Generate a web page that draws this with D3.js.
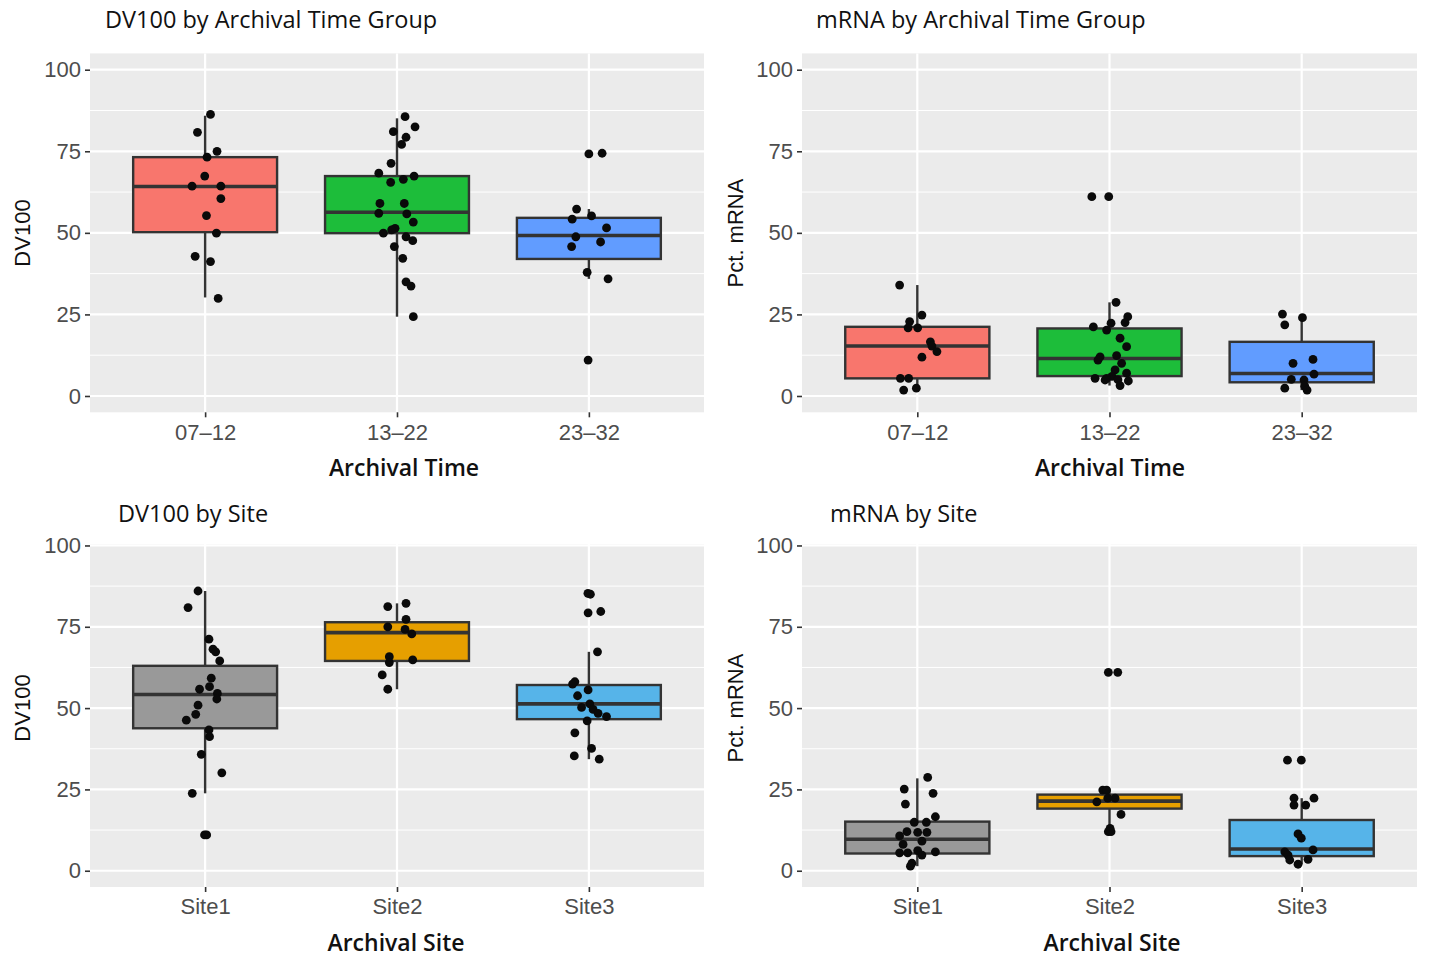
<!DOCTYPE html>
<html lang="en">
<head>
  <meta charset="UTF-8">
  <title>DV100 and mRNA boxplots</title>
  <script src="https://d3js.org/d3.v7.min.js"></script>
  <style>
    body { margin: 0; background: #fff; }
    .tick-label { font-family: "Liberation Sans", Arial, sans-serif; font-size: 22px; fill: #4d4d4d; }
    .y-title { font-family: "Liberation Sans", Arial, sans-serif; font-size: 22px; fill: #111; }
    .x-title { font-family: "Open Sans", sans-serif; font-size: 23px; font-weight: 600; fill: #111; }
    .p-title { font-family: "Open Sans", sans-serif; font-size: 23.5px; fill: #111; }
  </style>
</head>
<body>
<svg id="chart" width="1432" height="959"></svg>

<script>
// categories
const timeGroups = ["07–12", "13–22", "23–32"];
const sites = ["Site1", "Site2", "Site3"];

const timeColors = ["#F8766D", "#1DBD3A", "#619CFF"];
const siteColors = ["#999999", "#E69F00", "#56B4E9"];

const yTicks = [0, 25, 50, 75, 100];
const yMinor = [12.5, 37.5, 62.5, 87.5];

// box stats: [lower whisker, q1, median, q3, upper whisker]
const dv100TimeBoxes = [
  [30.2, 50.2, 64.2, 73.2, 85.9],
  [24.3, 49.9, 56.3, 67.4, 85.1],
  [35.9, 42.0, 49.2, 54.6, 57.3]
];
const mrnaTimeBoxes = [
  [1.8, 5.4, 15.3, 21.2, 34.0],
  [3.2, 6.1, 11.5, 20.7, 28.7],
  [1.8, 4.2, 6.9, 16.6, 24.0]
];
const dv100SiteBoxes = [
  [23.8, 43.8, 54.2, 63.0, 86.0],
  [55.8, 64.5, 73.2, 76.4, 82.2],
  [34.3, 46.6, 51.3, 57.1, 67.3]
];
const mrnaSiteBoxes = [
  [1.4, 5.3, 9.7, 15.1, 28.4],
  [12.0, 19.1, 21.4, 23.4, 24.8],
  [2.0, 4.5, 6.7, 15.6, 22.3]
];

// points: [value, horizontal jitter as a fraction of the category step], one list per category
const dv100TimePoints = [
  [[86.3, 0.028], [80.8, -0.040], [75.0, 0.062], [73.2, 0.010], [67.4, -0.002], [64.3, -0.068],
   [64.3, 0.082], [60.5, 0.082], [55.3, 0.007], [49.9, 0.059], [42.8, -0.052], [41.2, 0.028], [29.9, 0.068]],
  [[85.6, 0.042], [82.5, 0.094], [81.0, -0.019], [79.3, 0.047], [77.1, 0.024], [71.3, -0.031],
   [68.3, -0.095], [67.4, 0.089], [66.4, 0.033], [65.5, -0.033], [59.0, -0.089], [59.0, 0.038],
   [56.0, -0.095], [55.8, 0.051], [53.3, 0.085], [51.4, -0.010], [50.9, -0.028], [49.9, -0.071],
   [48.8, 0.047], [47.6, 0.082], [45.8, -0.014], [42.2, 0.030], [35.0, 0.047], [33.7, 0.073], [24.3, 0.085]],
  [[74.2, 0.000], [74.4, 0.069], [57.3, -0.064], [55.2, 0.014], [54.2, -0.087], [51.5, 0.092],
   [48.8, -0.068], [47.2, 0.061], [45.8, -0.090], [37.9, -0.009], [35.9, 0.100], [11.0, -0.004]]
];
const mrnaTimePoints = [
  [[34.0, -0.092], [24.8, 0.024], [22.8, -0.040], [20.9, -0.048], [20.9, 0.002], [16.6, 0.068],
   [15.3, 0.076], [13.6, 0.102], [11.9, 0.024], [5.4, -0.088], [5.4, -0.045], [1.8, -0.071], [2.4, -0.005]],
  [[61.1, -0.092], [61.1, -0.004], [28.7, 0.034], [24.3, 0.095], [22.5, 0.081], [22.3, 0.008],
   [21.2, -0.084], [20.2, -0.015], [17.7, 0.055], [15.1, 0.089], [12.4, 0.037], [12.0, -0.049],
   [11.0, -0.060], [10.0, 0.063], [8.0, 0.029], [7.0, 0.089], [6.0, 0.013], [5.4, -0.075],
   [5.4, -0.015], [5.0, 0.044], [4.9, -0.023], [4.6, 0.098], [3.2, 0.055]],
  [[25.1, -0.100], [21.8, -0.088], [24.0, 0.004], [11.2, 0.059], [10.0, -0.045], [6.7, 0.064],
   [5.1, -0.054], [4.9, 0.012], [3.0, 0.016], [2.4, -0.088], [1.8, 0.028]]
];
const dv100SitePoints = [
  [[86.0, -0.037], [80.9, -0.089], [71.2, 0.020], [68.1, 0.041], [67.3, 0.055], [64.5, 0.076],
   [59.2, 0.032], [56.6, 0.023], [55.8, -0.029], [54.5, 0.064], [52.8, 0.061], [50.9, -0.037],
   [48.1, -0.049], [46.3, -0.098], [43.3, 0.020], [41.2, 0.023], [35.8, -0.020], [30.1, 0.087],
   [23.8, -0.067], [11.0, -0.003], [11.0, 0.008]],
  [[82.2, 0.047], [81.2, -0.048], [77.3, 0.047], [75.0, -0.048], [74.2, 0.042], [72.8, 0.077],
   [65.8, -0.040], [64.8, 0.082], [64.0, -0.040], [60.2, -0.077], [55.8, -0.048]],
  [[85.3, -0.005], [85.0, 0.008], [79.3, -0.004], [79.7, 0.062], [67.3, 0.045], [58.1, -0.073],
   [57.4, -0.085], [55.6, -0.004], [53.8, -0.059], [51.3, 0.005], [50.2, -0.038], [49.6, 0.022],
   [48.4, 0.048], [47.4, 0.092], [46.1, -0.009], [42.4, -0.073], [37.6, 0.014], [35.3, -0.076], [34.3, 0.054]]
];
const mrnaSitePoints = [
  [[28.7, 0.054], [25.1, -0.068], [23.8, 0.082], [20.5, -0.062], [16.6, 0.094], [14.9, -0.016],
   [14.9, 0.047], [12.0, -0.054], [11.8, 0.002], [11.8, 0.050], [10.7, -0.092], [9.1, 0.024],
   [8.1, -0.074], [5.5, -0.092], [5.5, -0.050], [6.2, 0.002], [5.8, 0.094], [4.8, 0.024],
   [2.3, -0.028], [1.4, -0.036]],
  [[61.0, -0.006], [61.0, 0.043], [24.8, -0.035], [24.8, -0.015], [22.3, -0.009], [22.3, 0.029],
   [21.2, -0.066], [17.3, 0.060], [13.0, 0.003], [12.0, -0.006], [12.0, 0.008]],
  [[34.0, -0.074], [34.0, -0.002], [22.3, -0.040], [22.3, 0.064], [20.2, -0.040], [20.2, 0.021],
   [11.3, -0.019], [10.0, -0.002], [6.4, 0.059], [5.8, -0.088], [4.8, -0.071], [3.5, 0.033],
   [3.3, -0.062], [2.0, -0.019]]
];

// layout of the four panels
const rows = [
  { yRange: [412.3, 53.4], bgTop: 53.4, titleY: 28, tickY: 440, xTitleY: 476, yMid: 233 },
  { yRange: [887, 529.2], bgTop: 544, titleY: 522, tickY: 914, xTitleY: 951, yMid: 708 }
];
const cols = [
  { x0: 90, x1: 704, yTitleX: 30 },
  { x0: 802, x1: 1417, yTitleX: 743 }
];

const panels = [
  { row: 0, col: 0, title: "DV100 by Archival Time Group", titleX: 105, yTitle: "DV100",
    xTitle: "Archival Time", xTitleX: 404, cats: timeGroups, fills: timeColors, boxes: dv100TimeBoxes, points: dv100TimePoints },
  { row: 0, col: 1, title: "mRNA by Archival Time Group", titleX: 816, yTitle: "Pct. mRNA",
    xTitle: "Archival Time", xTitleX: 1110, cats: timeGroups, fills: timeColors, boxes: mrnaTimeBoxes, points: mrnaTimePoints },
  { row: 1, col: 0, title: "DV100 by Site", titleX: 118, yTitle: "DV100",
    xTitle: "Archival Site", xTitleX: 396, cats: sites, fills: siteColors, boxes: dv100SiteBoxes, points: dv100SitePoints },
  { row: 1, col: 1, title: "mRNA by Site", titleX: 830, yTitle: "Pct. mRNA",
    xTitle: "Archival Site", xTitleX: 1112, cats: sites, fills: siteColors, boxes: mrnaSiteBoxes, points: mrnaSitePoints }
];

const svg = d3.select("#chart");

panels.forEach(p => {
  const r = rows[p.row], c = cols[p.col];
  const g = svg.append("g");

  const y = d3.scaleLinear().domain([-5, 105]).range(r.yRange);
  const x = d3.scalePoint().domain(p.cats).range([c.x0, c.x1]).padding(0.6);
  const step = x.step();
  const bw = step * 0.75;

  // panel background
  g.append("rect")
    .attr("x", c.x0).attr("y", r.bgTop)
    .attr("width", c.x1 - c.x0).attr("height", r.yRange[0] - r.bgTop)
    .attr("fill", "#ebebeb");

  // grid
  g.selectAll(".minor").data(yMinor).enter().append("line")
    .attr("x1", c.x0).attr("x2", c.x1)
    .attr("y1", d => y(d)).attr("y2", d => y(d))
    .attr("stroke", "#fff").attr("stroke-width", 1);
  g.selectAll(".major").data(yTicks).enter().append("line")
    .attr("x1", c.x0).attr("x2", c.x1)
    .attr("y1", d => y(d)).attr("y2", d => y(d))
    .attr("stroke", "#fff").attr("stroke-width", 2.2);
  g.selectAll(".vgrid").data(p.cats).enter().append("line")
    .attr("x1", d => x(d)).attr("x2", d => x(d))
    .attr("y1", r.bgTop).attr("y2", r.yRange[0])
    .attr("stroke", "#fff").attr("stroke-width", 2.2);

  // y axis
  const yAxis = g.append("g")
    .attr("transform", `translate(${c.x0},0)`)
    .call(d3.axisLeft(y).tickValues(yTicks).tickSize(5).tickPadding(4));
  yAxis.select(".domain").remove();
  yAxis.attr("font-family", null).attr("font-size", null);
  yAxis.selectAll("line").attr("stroke", "#333").attr("stroke-width", 1.6);
  yAxis.selectAll("text").attr("class", "tick-label").attr("fill", null);

  // x axis
  const xAxis = g.append("g")
    .attr("transform", `translate(0,${r.yRange[0]})`)
    .call(d3.axisBottom(x).tickSize(5).tickPadding(4));
  xAxis.select(".domain").remove();
  xAxis.attr("font-family", null).attr("font-size", null);
  xAxis.selectAll("line").attr("stroke", "#333").attr("stroke-width", 1.6);
  xAxis.selectAll("text").attr("class", "tick-label").attr("fill", null)
    .attr("dy", null).attr("y", r.tickY - r.yRange[0]);

  // boxes
  const box = g.selectAll(".box").data(p.boxes).enter().append("g");
  box.append("line")
    .attr("x1", (d, i) => x(p.cats[i])).attr("x2", (d, i) => x(p.cats[i]))
    .attr("y1", d => y(d[0])).attr("y2", d => y(d[4]))
    .attr("stroke", "#333").attr("stroke-width", 2.4);
  box.append("rect")
    .attr("x", (d, i) => x(p.cats[i]) - bw / 2).attr("width", bw)
    .attr("y", d => y(d[3])).attr("height", d => y(d[1]) - y(d[3]))
    .attr("fill", (d, i) => p.fills[i])
    .attr("stroke", "#333").attr("stroke-width", 2.4);
  box.append("line")
    .attr("x1", (d, i) => x(p.cats[i]) - bw / 2).attr("x2", (d, i) => x(p.cats[i]) + bw / 2)
    .attr("y1", d => y(d[2])).attr("y2", d => y(d[2]))
    .attr("stroke", "#333").attr("stroke-width", 3.6);

  // jittered points
  p.points.forEach((pts, i) => {
    g.selectAll(null).data(pts).enter().append("circle")
      .attr("cx", d => x(p.cats[i]) + d[1] * step)
      .attr("cy", d => y(d[0]))
      .attr("r", 4.4)
      .attr("fill", "#0a0a0a");
  });

  // titles
  g.append("text").attr("class", "p-title")
    .attr("x", p.titleX).attr("y", r.titleY).text(p.title);
  g.append("text").attr("class", "x-title")
    .attr("x", p.xTitleX).attr("y", r.xTitleY).attr("text-anchor", "middle").text(p.xTitle);
  g.append("text").attr("class", "y-title")
    .attr("transform", `translate(${c.yTitleX},${r.yMid}) rotate(-90)`)
    .attr("text-anchor", "middle").text(p.yTitle);
});
</script>
</body>
</html>
